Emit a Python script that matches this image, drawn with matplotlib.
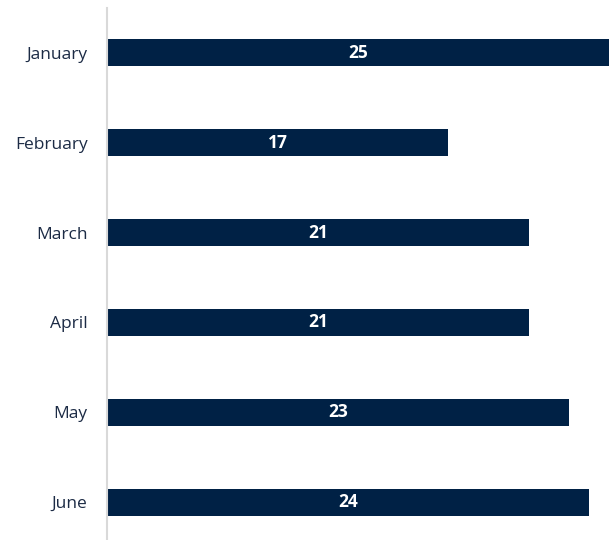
import matplotlib.pyplot as plt

months = ['January', 'February', 'March', 'April', 'May', 'June']
values = [25, 17, 21, 21, 23, 24]

fig = plt.figure(figsize=(6.09, 5.40), dpi=100)
ax = fig.add_axes([107/609, -7/540, 502/609, 539/540])

y = range(len(months))
bars = ax.barh(y, values, height=0.3, color='#002145')
for b, v in zip(bars, values):
    ax.text(v / 2, b.get_y() + b.get_height() / 2, str(v), color='white',
            ha='center', va='center', fontsize=12.5, fontweight='bold', family='Open Sans')

ax.set_xlim(0, 25)
ax.set_ylim(5.5, -0.5)
ax.set_yticks(list(y))
ax.set_yticklabels(months, fontsize=12.5, color='#1c2b45', family='Open Sans')
ax.tick_params(axis='y', length=0, pad=14)
ax.set_xticks([])
for s in ['top', 'right', 'bottom']:
    ax.spines[s].set_visible(False)
ax.spines['left'].set_color('#d9d9d9')
ax.spines['left'].set_linewidth(1.5)

fig.savefig('out.png', dpi=100)
